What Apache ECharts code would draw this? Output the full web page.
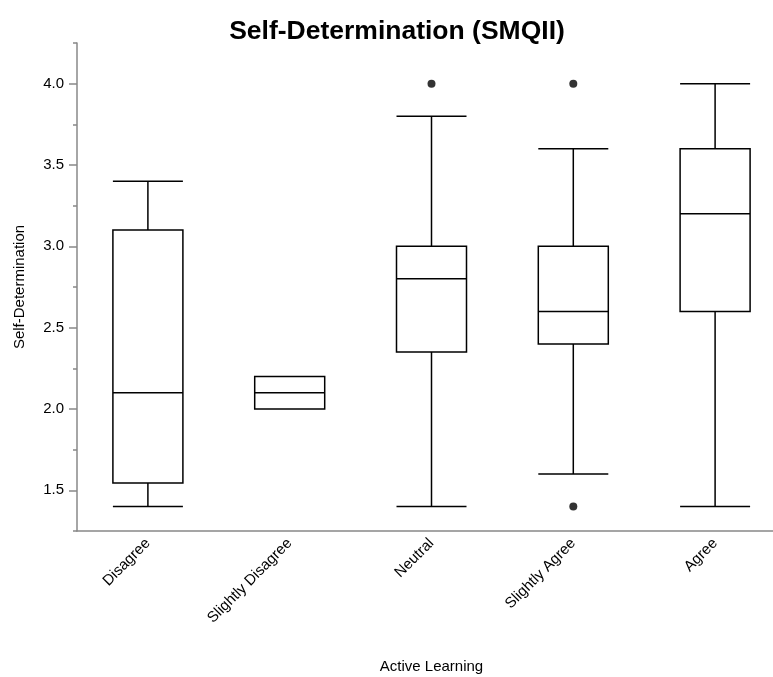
<!DOCTYPE html>
<html>
<head>
<meta charset="utf-8">
<script src="https://cdn.jsdelivr.net/npm/echarts@6/dist/echarts.min.js"></script>
<style>html,body{margin:0;padding:0;background:#fff}#c{width:773px;height:677px}</style>
</head>
<body>
<div id="c"></div>
<script>
var categories = ['Disagree', 'Slightly Disagree', 'Neutral', 'Slightly Agree', 'Agree'];
// [min whisker, Q1, median, Q3, max whisker]
var boxValues = [
  [1.4, 1.545, 2.1, 3.1, 3.4],
  [2.0, 2.0, 2.1, 2.2, 2.2],
  [1.4, 2.35, 2.8, 3.0, 3.8],
  [1.6, 2.4, 2.6, 3.0, 3.6],
  [1.4, 2.6, 3.2, 3.6, 4.0]
];
var outliers = [
  ['Neutral', 4.0],
  ['Slightly Agree', 4.0],
  ['Slightly Agree', 1.4]
];
var yTicks = [1.5, 2.0, 2.5, 3.0, 3.5, 4.0];
var yMinorTicks = [1.25, 1.75, 2.25, 2.75, 3.25, 3.75, 4.25];

var font = '"Liberation Sans", Arial, Helvetica, sans-serif';
var chart = echarts.init(document.getElementById('c'), null, {renderer: 'canvas'});
chart.setOption({
  animation: false,
  backgroundColor: '#fff',
  title: {
    text: 'Self-Determination (SMQII)',
    left: 392,
    textAlign: 'center',
    top: 13,
    textStyle: {fontFamily: font, fontSize: 26.5, fontWeight: 'bold', color: '#000'}
  },
  grid: {left: 77, right: -13, top: 43, bottom: 146, containLabel: false, outerBoundsMode: 'none'},
  xAxis: {
    type: 'category',
    data: categories,
    name: 'Active Learning',
    nameLocation: 'middle',
    nameGap: 128,
    nameTextStyle: {fontFamily: font, fontSize: 15, color: '#000'},
    axisLine: {show: true, lineStyle: {color: '#888', width: 1.5}},
    axisTick: {show: false},
    splitLine: {show: false},
    axisLabel: {rotate: 45, margin: 10, fontFamily: font, fontSize: 15, color: '#000', interval: 0}
  },
  yAxis: [
    {
      type: 'value',
      min: 1.25,
      max: 4.25,
      name: 'Self-Determination',
      nameLocation: 'middle',
      nameGap: 50,
      nameTextStyle: {fontFamily: font, fontSize: 15, color: '#000'},
      axisLine: {show: true, lineStyle: {color: '#888', width: 1.5}},
      axisTick: {show: true, length: 8, customValues: yTicks, lineStyle: {color: '#888', width: 1.5}},
      splitLine: {show: false},
      axisLabel: {
        fontFamily: font, fontSize: 15, color: '#000', margin: 13,
        customValues: yTicks,
        formatter: function (v) { return Number(v).toFixed(1); }
      }
    },
    {
      type: 'value',
      min: 1.25,
      max: 4.25,
      position: 'left',
      axisLine: {show: false},
      axisTick: {show: true, length: 4, customValues: yMinorTicks, lineStyle: {color: '#888', width: 1.5}},
      axisLabel: {show: false},
      splitLine: {show: false}
    }
  ],
  series: [
    {
      type: 'boxplot',
      data: boxValues,
      boxWidth: [70, 70],
      itemStyle: {color: '#fff', borderColor: '#000', borderWidth: 1.5},
      emphasis: {disabled: true}
    },
    {
      type: 'scatter',
      data: outliers,
      symbol: 'circle',
      symbolSize: 8,
      itemStyle: {color: '#000'}
    }
  ]
});
</script>
</body>
</html>
